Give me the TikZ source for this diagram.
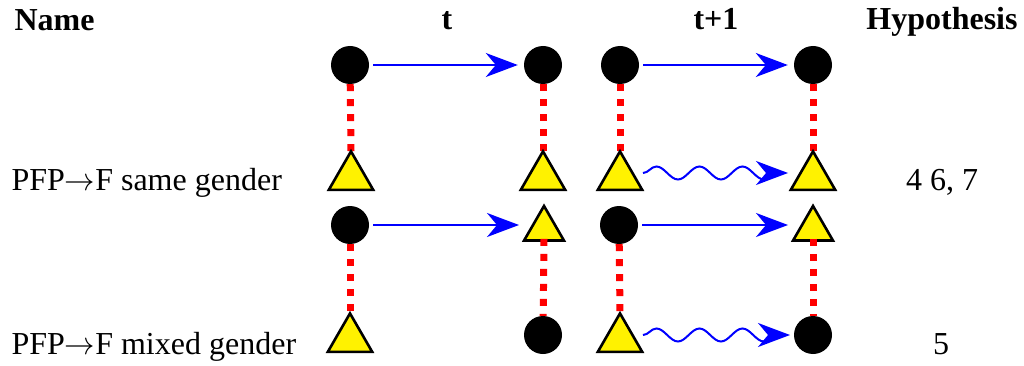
\RequirePackage{fix-cm}
\documentclass[tikz,border=0pt]{standalone}
\usepackage{fontspec}
\usepackage{graphicx}
\setmainfont{Liberation Serif}
\usetikzlibrary{shapes.geometric,arrows.meta,decorations.pathmorphing}
\newcommand{\pfparrow}{\scalebox{0.95}[1]{$\rightarrow$}}
\begin{document}
\begin{tikzpicture}[x=1pt,y=-1pt,
  every node/.style={font=\fontsize{32}{38}\selectfont},
  dot/.style={circle,fill=black,minimum size=38,inner sep=0},
  tri/.style={regular polygon,regular polygon sides=3,draw=black,line width=2.6,fill=yellow,minimum size=46,inner sep=0},
  tie/.style={draw=red,line width=7,dash pattern=on 7 off 8},
  arr/.style={draw=blue,line width=2,-{Stealth[length=32,width=24,inset=10]}},
  wavy/.style={draw=blue,line width=2,-{Stealth[length=32,width=24,inset=10]},decorate,decoration={snake,amplitude=6.5,segment length=43,post length=6}},
  hdr/.style={font=\fontsize{32}{38}\selectfont\bfseries,anchor=base}]
\useasboundingbox (0,0) rectangle (1024,366);
% headers
\node[hdr,anchor=base west] (hname) at (11,31) {Name};
\node[hdr] (ht) at (447,30) {t};
\node[hdr] (ht1) at (716,30) {t+1};
\node[hdr] (hhyp) at (942,30) {Hypothesis};
% row labels
\node[anchor=base west] (l1) at (8,190) {PFP\pfparrow F same gender};
\node[anchor=base] (h1) at (942,190) {4 6, 7};
\node[anchor=base west] (l2) at (8,354) {PFP\pfparrow F mixed gender};
\node[anchor=base] (h2) at (941,354) {5};
% nodes
\node[dot] (c11) at (350,65) {};
\node[dot] (c12) at (543,65) {};
\node[dot] (c13) at (620,65) {};
\node[dot] (c14) at (813,65) {};
\node[tri] (t11) at (351,177) {};
\node[tri] (t12) at (543,177) {};
\node[tri] (t13) at (620,177) {};
\node[tri] (t14) at (813,177) {};
\node[dot] (c21) at (350,225) {};
\node[tri] (t22) at (544,229) {};
\node[dot] (c23) at (619,225) {};
\node[tri] (t24) at (813,229) {};
\node[tri] (t31) at (350,339) {};
\node[dot] (c32) at (543,335) {};
\node[tri] (t33) at (620,339) {};
\node[dot] (c34) at (813,335) {};
% ties
\draw[tie] (c11) -- (t11.north);
\draw[tie] (c12) -- (t12.north);
\draw[tie] (c13) -- (t13.north);
\draw[tie] (c14) -- (t14.north);
\draw[tie] (c21) -- (t31.north);
\draw[tie] ([yshift=3]t22.south) -- (c32);
\draw[tie] (c23) -- (t33.north);
\draw[tie] ([yshift=3]t24.south) -- (c34);
% redraw triangles on top of ties
\foreach \n in {t11,t12,t13,t14,t31,t33}{
  \draw[black,line width=2.6,fill=yellow] (\n.corner 1) -- (\n.corner 2) -- (\n.corner 3) -- cycle;
}
% arrows
\draw[arr,shorten <=4,shorten >=6] (c11) -- (c12);
\draw[arr,shorten <=4,shorten >=6] (c13) -- (c14);
\draw[arr,shorten <=4,shorten >=25] (c21) -- (c21 -| t22);
\draw[arr,shorten <=4,shorten >=25] (c23) -- (c23 -| t24);
\draw[wavy] ([shift={(23,-4)}]t13.center) -- ([shift={(-25,-4)}]t14.center);
\draw[wavy] ([xshift=23]t33.center |- c34) -- ([xshift=-23]c34.center);
\end{tikzpicture}
\end{document}
